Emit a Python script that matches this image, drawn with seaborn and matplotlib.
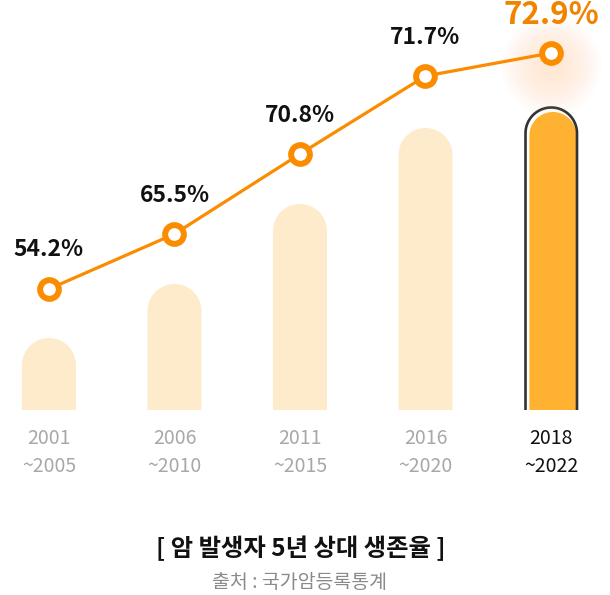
import numpy as np
import seaborn as sns
from matplotlib import pyplot as plt
from matplotlib.patches import Polygon

# values (display heights in px above baseline)
periods = ["2001\n~2005", "2006\n~2010", "2011\n~2015", "2016\n~2020", "2018\n~2022"]
survival = ["54.2%", "65.5%", "70.8%", "71.7%", "72.9%"]
bar_height = [72, 126, 206, 282, 298]
line_level = [121, 176, 256, 334, 357]

bar_colors = ["#FEEBCB", "#FEEBCB", "#FEEBCB", "#FEEBCB", "#FFB232"]
tick_colors = ["#A8A8A8", "#A8A8A8", "#A8A8A8", "#A8A8A8", "#111111"]
line_color = "#FB8C00"

sns.set_theme(style="white")
plt.rcParams["font.family"] = ["Noto Sans CJK KR", "DejaVu Sans"]

fig = plt.figure(figsize=(6.1, 5.95), dpi=100)
ax = fig.add_axes([0, 185 / 595, 1, 410 / 595])

sns.barplot(x=periods, y=bar_height, hue=periods, palette=bar_colors,
            width=0.43, legend=False, ax=ax)

ax.set_xlim(-0.39, 4.47)
ax.set_ylim(0, 410)
px_x = 610 / (4.47 + 0.39)


def rounded_path(x0, w, h):
    # bar outline: right side up, semicircle over the top, left side down
    ry = w / 2 * px_x
    xc = x0 + w / 2
    t = np.linspace(0, np.pi, 60)
    xs = np.concatenate([[x0 + w], xc + w / 2 * np.cos(t), [x0]])
    ys = np.concatenate([[0], h - ry + ry * np.sin(t), [0]])
    return xs, ys


for i, patch in enumerate(list(ax.patches)):
    x0, w, h = patch.get_x(), patch.get_width(), patch.get_height()
    patch.set_visible(False)
    if i == 4:
        # highlighted bar is a bit narrower and sits inside a dark outline
        ow, oh = 51.5 / px_x, 302.5
        ox0 = x0 + w / 2 - ow / 2 + 0.002
        xs, ys = rounded_path(ox0, ow, oh)
        ax.plot(xs, ys, color="#333333", lw=1.9, zorder=2, solid_capstyle="butt")
        nw = 47 / px_x
        x0 = x0 + w / 2 - nw / 2 + 0.015
        w = nw
    xs, ys = rounded_path(x0, w, h)
    ax.add_patch(Polygon(np.column_stack([xs, ys]), closed=True,
                         facecolor=bar_colors[i], edgecolor="none", zorder=1))

# faint glow behind the latest point
for d in np.linspace(100, 24, 16):
    ax.scatter([4], [line_level[4] - 12], s=(d * 0.72) ** 2, color="#FFC080",
               alpha=0.018, linewidths=0, zorder=3)

sns.lineplot(x=range(len(periods)), y=line_level, color=line_color, lw=2.3,
             marker="o", markersize=13.5, markerfacecolor="white",
             markeredgecolor=line_color, markeredgewidth=4.3, zorder=4, ax=ax)

for i, lab in enumerate(survival):
    if i == 4:
        ax.text(i, line_level[i] + 38, lab, ha="center", va="center",
                fontsize=22.5, fontweight="bold", color="#F08300")
    else:
        ax.text(i, line_level[i] + 39, lab, ha="center", va="center",
                fontsize=16.5, fontweight="bold", color="#111111")

ax.set_xticks(range(len(periods)))
ax.set_xticklabels(periods, fontsize=14, fontweight="light", linespacing=1.45)
for lab, c in zip(ax.get_xticklabels(), tick_colors):
    lab.set_color(c)
ax.tick_params(axis="x", length=0, pad=13)
ax.set_yticks([])
ax.set_xlabel("")
ax.set_ylabel("")
sns.despine(ax=ax, left=True, bottom=True)

fig.text(301 / 610, 1 - 548 / 595, "[ 암 발생자 5년 상대 생존율 ]", ha="center",
         va="center", fontsize=17.5, fontweight="bold", color="#111111")
fig.text(300 / 610, 1 - 582 / 595, "출처 : 국가암등록통계", ha="center",
         va="center", fontsize=14, color="#8A8A8A")

fig.savefig("out.png", dpi=100, facecolor="white")
